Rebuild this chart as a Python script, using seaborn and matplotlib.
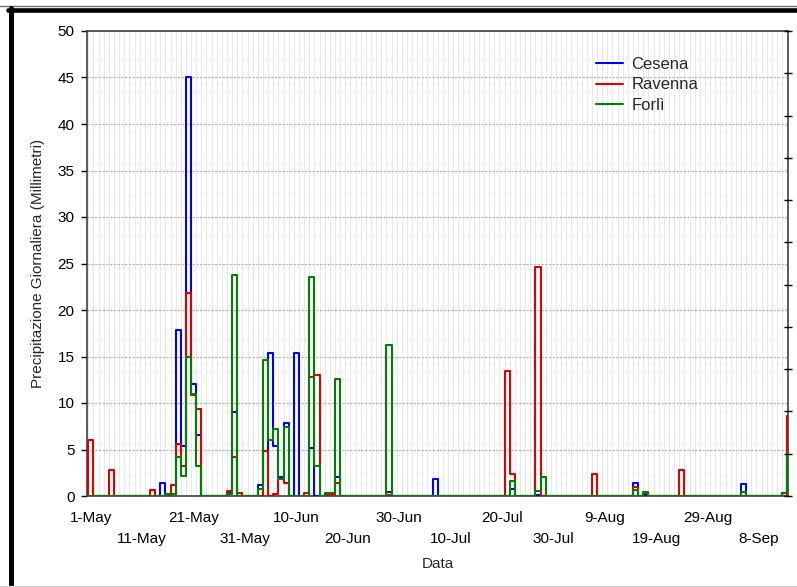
import numpy as np
import pandas as pd
import matplotlib
matplotlib.use("Agg")
import matplotlib.pyplot as plt
import seaborn as sns
from matplotlib.lines import Line2D

# ---------------- data (day index 0 = 1-May) ----------------
n_days = 138  # day -1 (30-Apr) .. day 136 (14-Sep)
stations = ["Cesena", "Ravenna", "Forlì"]

cesena_days = [14, 15, 16, 17, 18, 19, 20, 21, 27, 28, 33, 34, 35, 36, 37, 38, 40, 43,
               46, 47, 48, 58, 67, 82, 87, 106, 108, 127, 135, 136]
cesena_mm = [1.4, 0.2, 0.2, 17.8, 5.4, 45.0, 12.0, 6.6, 0.3, 9.0, 1.2, 4.8, 15.4, 5.4, 2.0, 7.8, 15.4, 5.2,
             0.2, 0.2, 2.0, 0.4, 1.8, 0.8, 0.1, 1.4, 0.1, 1.25, 0.3, 4.8]

ravenna_days = [0, 4, 12, 15, 16, 17, 18, 19, 20, 21, 27, 28, 29, 34, 36, 37, 38, 42, 43, 44,
                46, 47, 48, 58, 81, 82, 87, 98, 106, 108, 115, 136]
ravenna_mm = [6.0, 2.8, 0.6, 0.1, 1.2, 5.6, 3.2, 21.8, 10.9, 9.4, 0.5, 4.2, 0.3, 4.8, 0.2, 1.8, 1.4, 0.3, 12.8, 13.0,
              0.1, 0.1, 1.4, 0.1, 13.4, 2.4, 24.6, 2.4, 1.0, 0.3, 2.8, 8.6]

forli_days = [15, 16, 17, 18, 19, 20, 21, 27, 28, 33, 34, 35, 36, 37, 38, 43, 44, 46, 47, 48,
              58, 82, 87, 88, 106, 108, 127, 135, 136]
forli_mm = [0.2, 0.2, 4.2, 2.2, 15.0, 11.0, 3.2, 0.2, 23.8, 0.8, 14.6, 6.0, 7.2, 1.8, 7.4, 23.6, 3.2, 0.3, 0.3, 12.6,
            16.2, 1.6, 0.5, 2.0, 0.6, 0.4, 0.4, 0.35, 4.6]

tick_days = [0, 10, 20, 30, 40, 50, 60, 70, 80, 90, 100, 110, 120, 130]
tick_labels = ["1-May", "11-May", "21-May", "31-May", "10-Jun", "20-Jun", "30-Jun",
               "10-Jul", "20-Jul", "30-Jul", "9-Aug", "19-Aug", "29-Aug", "8-Sep"]

colors = {"Cesena": "#0000FF", "Ravenna": "#E00000", "Forlì": "#008000"}

# ---------------- build long table ----------------
days = np.arange(-1, n_days - 1)
frames = []
for name, dd, vv in [("Cesena", cesena_days, cesena_mm),
                     ("Ravenna", ravenna_days, ravenna_mm),
                     ("Forlì", forli_days, forli_mm)]:
    s = pd.Series(0.0, index=days)
    s.loc[dd] = vv
    frames.append(pd.DataFrame({"day": days, "mm": s.values, "station": name}))
df = pd.concat(frames, ignore_index=True)

# ---------------- plot ----------------
sns.set_theme(style="white")
plt.rcParams["font.family"] = ["Liberation Sans", "DejaVu Sans"]

fig = plt.figure(figsize=(7.97, 5.87), dpi=100)
ax = fig.add_axes([87 / 797, 1 - 496 / 587, (788 - 87) / 797, (496 - 31) / 587])

sns.lineplot(data=df, x="day", y="mm", hue="station", hue_order=stations,
             palette=colors, drawstyle="steps-mid", linewidth=1.5,
             estimator=None, ax=ax, zorder=3)

ax.set_xlim(-0.75, 135.65)
ax.set_ylim(0, 50)
ax.set_yticks(np.arange(0, 51, 5))
ax.set_xticks(tick_days)
ax.set_xticklabels([lab if i % 2 == 0 else "\n" + lab for i, lab in enumerate(tick_labels)])
for lbl in ax.get_xticklabels():
    lbl.set_linespacing(1.6)
ax.set_xticks(np.arange(-0.5, 136, 1), minor=True)

ax.tick_params(axis="x", which="both", length=0, pad=11, labelsize=11, colors="black")
ax.tick_params(axis="y", which="major", length=4, width=1, direction="out", pad=5,
               labelsize=11, left=True, colors="black")

ax.grid(False)
ax.xaxis.grid(True, which="minor", color="#d4d4d4", linestyle=(0, (1, 1)), linewidth=0.7, zorder=0)
ax.yaxis.grid(True, which="major", color="#b8b8b8", linestyle=(0, (2, 1)), linewidth=0.9, zorder=0)
ax.set_axisbelow(True)

for sp in ax.spines.values():
    sp.set_color("#404040")
    sp.set_linewidth(1.2)

ax.set_xlabel("Data", fontsize=11, labelpad=8)
ax.set_ylabel("Precipitazione Giornaliera (Millimetri)", fontsize=11, labelpad=9)

# right-hand tick marks
ax2 = ax.twinx()
ax2.set_ylim(0, 11)
ax2.set_yticks(np.arange(0, 12, 1))
ax2.tick_params(axis="y", direction="inout", length=6, width=1, labelright=False, right=True, colors="black")
ax2.grid(False)
for sp in ax2.spines.values():
    sp.set_visible(False)

handles, labels = ax.get_legend_handles_labels()
ax.legend(handles, labels, loc="upper left", bbox_to_anchor=(0.7257, 0.944),
          frameon=False, fontsize=12, handlelength=1.65, handletextpad=0.5,
          labelspacing=0.32, borderpad=0, borderaxespad=0)

# figure frame
fig.add_artist(Line2D([0, 1], [1 - 6.3 / 587] * 2, transform=fig.transFigure, color="#707070", lw=1.0))
fig.add_artist(Line2D([8 / 797, 1], [1 - 9.5 / 587] * 2, transform=fig.transFigure, color="black", lw=3.3))
fig.add_artist(Line2D([10.8 / 797] * 2, [0, 1 - 7.5 / 587], transform=fig.transFigure, color="black", lw=3.6))
fig.add_artist(Line2D([0, 1], [1.5 / 587] * 2, transform=fig.transFigure, color="#d0d0d0", lw=1.0))

fig.savefig("out.png", dpi=100)
